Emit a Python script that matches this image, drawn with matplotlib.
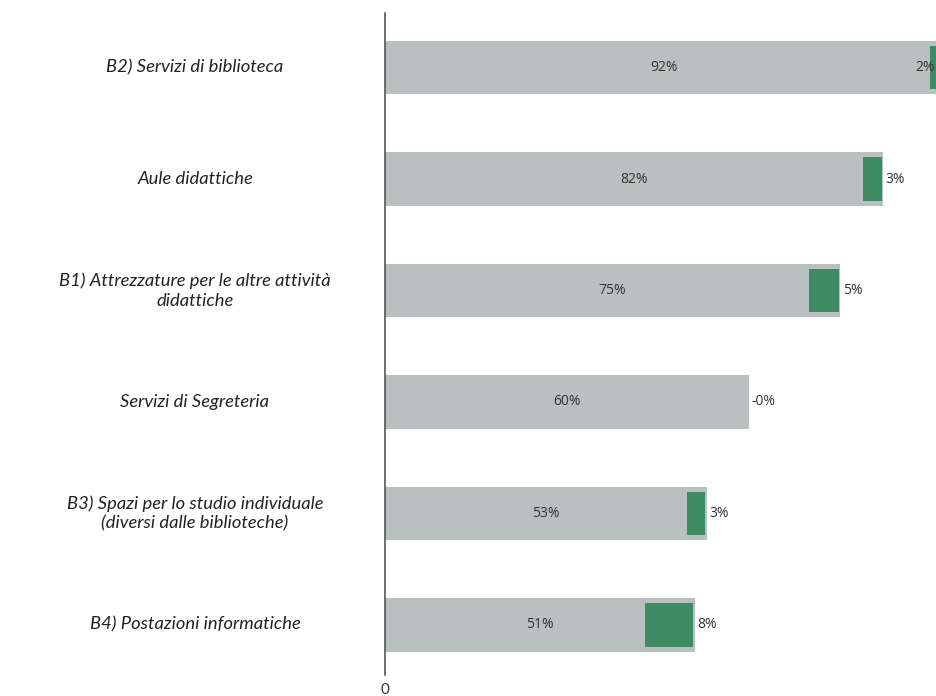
import numpy as np
import matplotlib.pyplot as plt

plt.rcParams.update({
    "font.family": ["Lato", "DejaVu Sans"],
    "font.size": 11})

categories = [
    "B2) Servizi di biblioteca",
    "Aule didattiche",
    "B1) Attrezzature per le altre attività\ndidattiche",
    "Servizi di Segreteria",
    "B3) Spazi per lo studio individuale\n(diversi dalle biblioteche)",
    "B4) Postazioni informatiche",
]
totals = [92, 82, 75, 60, 53, 51]
deltas = [2, 3, 5, -0.2, 3, 8]

GRAY = "#b9c0c0"
GREEN = "#3f8b63"
TEXT = "#333333"


def plot(plot_file) -> None:
    fig = plt.figure(figsize=(9.36, 6.96), dpi=100)
    ax = fig.add_axes([385 / 936, 21 / 696, 1 - 385 / 936, (675 - 13) / 696])

    y = np.arange(len(categories))
    xmax = (936 - 385) / 6.07

    ax.barh(y, totals, height=0.48, color=GRAY, zorder=1)
    for i, (t, d) in enumerate(zip(totals, deltas)):
        if d > 0:
            ax.barh(i, d, left=t - d - 0.2, height=0.39, color=GREEN, zorder=2)
        ax.text(t / 2, i, f"{t}%", ha="center", va="center",
                fontsize=10, color=TEXT, family="Open Sans")
        ax.text(min(t + 0.4, xmax - 3.4), i, f"{d:.0f}%", ha="left", va="center",
                fontsize=10, color=TEXT, family="Open Sans", zorder=3)

    ax.set_xlim(0, xmax)
    ax.set_ylim(5.45, -0.49)

    for s in ["top", "right", "bottom"]:
        ax.spines[s].set_visible(False)
    ax.spines["left"].set_color("#555555")
    ax.spines["left"].set_linewidth(1.2)

    ax.set_xticks([0])
    ax.set_xticklabels(["0"])
    ax.tick_params(axis="x", length=0, pad=6, labelsize=11, labelcolor=TEXT)
    ax.set_yticks([])

    for i, c in enumerate(categories):
        fy = ax.transData.transform((0, i))[1]
        fig.text(195 / 936, fy / fig.bbox.height, c, ha="center", va="center",
                 fontsize=13.2, style="italic", color="#222222",
                 transform=fig.transFigure, linespacing=1.3)

    fig.savefig(plot_file, dpi=100)
    plt.close(fig)


if __name__ == "__main__":
    plot("out.png")
